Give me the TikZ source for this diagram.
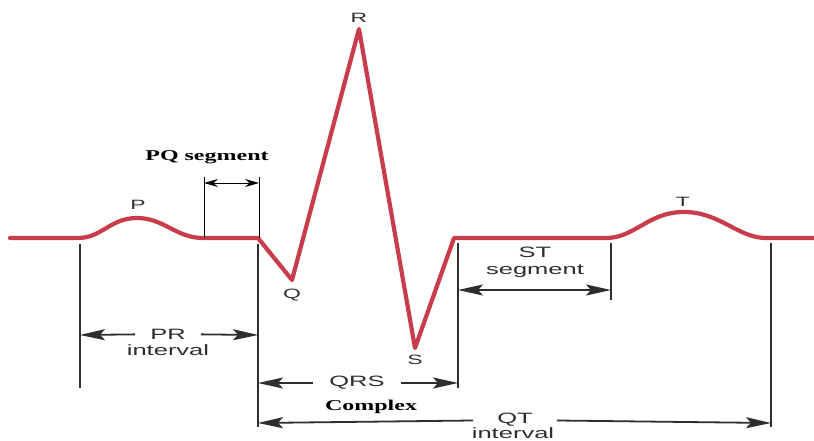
\documentclass[tikz,border=0pt]{standalone}
\usepackage{fontspec}
\usepackage{tikz}
\usetikzlibrary{arrows.meta}
\newfontfamily\ecgsans[FakeStretch=1.7]{Liberation Sans}
\newfontfamily\ecgserif[FakeStretch=1.6]{Liberation Serif}
\definecolor{EcgRed}{HTML}{C93C4C}
\definecolor{EcgGray}{HTML}{2E2E2E}

\begin{document}
\begin{tikzpicture}[x=1pt,y=-1pt,>={Stealth[length=25pt,width=11pt,inset=5pt]},
 ecg/.style={EcgRed,line width=4.2pt,line join=round,line cap=round},
 tickline/.style={EcgGray,line width=2pt},
 thinline/.style={black,line width=0.9pt},
 dim/.style={EcgGray,line width=1.8pt},
 pqdim/.style={black,line width=1pt,{Stealth[length=14pt,width=8pt]}-{Stealth[length=14pt,width=8pt]}},
 lbl/.style={font=\ecgsans\fontsize{15}{17}\selectfont,text=EcgGray,inner sep=0pt},
 wave/.style={font=\ecgsans\fontsize{13.5}{15}\selectfont,text=EcgGray,inner sep=0pt},
 boldlbl/.style={font=\ecgserif\bfseries\fontsize{15}{17}\selectfont,inner sep=0pt}]
\useasboundingbox (0,0) rectangle (814,441);
\draw[ecg] (10,238) -- (78,238) .. controls (102,238) and (110,218) .. (137,218)
 .. controls (164,218) and (176,238) .. (203,238) -- (258,238) -- (292,280)
 -- (359,29) -- (415,348) -- (454,238) -- (606,238)
 .. controls (635,238) and (648,212) .. (684,212)
 .. controls (720,212) and (738,238) .. (766,238) -- (816,238);
\node[wave] (p) at (138,205) {P};
\node[wave] (r) at (359,18) {R};
\node[wave] (q) at (292,295) {Q};
\node[wave] (s) at (415,360) {S};
\node[wave] (t) at (683,202) {T};
\draw[tickline] (80,244) -- (80,388);
\draw[tickline] (258,244) -- (258,427);
\draw[tickline] (458,243) -- (458,388);
\draw[tickline] (611,243) -- (611,300);
\draw[tickline] (771,243) -- (771,427);
\draw[thinline] (204,177) -- (204,238);
\draw[thinline] (259,177) -- (259,238);
\coordinate (pqL) at (204,183);
\coordinate (pqR) at (259,183);
\draw[pqdim] (pqL) -- (pqR);
\node[boldlbl] (pqlab) at (207,157) {PQ segment};
\coordinate (prL) at (80,335);
\coordinate (prR) at (258,335);
\node[lbl,inner xsep=15pt] (pr) at (168,334) {PR};
\node[lbl,anchor=base] (print) at (168,355) {interval};
\draw[dim,->] (pr) -- (prL);
\draw[dim,->] (pr) -- (prR);
\coordinate (stL) at (458,290);
\coordinate (stR) at (611,290);
\draw[dim,<->] (stL) -- (stR);
\node[lbl,align=center] (st) at (535,262) {ST\\segment};
\coordinate (qrsL) at (258,383);
\coordinate (qrsR) at (458,383);
\node[lbl,inner xsep=16pt] (qrs) at (357,383) {QRS};
\draw[dim,->] (qrs) -- (qrsL);
\draw[dim,->] (qrs) -- (qrsR);
\node[boldlbl] (cplx) at (371,407) {Complex};
\coordinate (qtL) at (258,423);
\coordinate (qtR) at (771,423);
\node[lbl,inner xsep=24pt] (qt) at (515,420) {QT};
\node[lbl,anchor=base] (qtint) at (513,438) {interval};
\draw[dim,->] (qt) -- (qtL);
\draw[dim,->] (qt) -- (qtR);
\end{tikzpicture}
\end{document}
